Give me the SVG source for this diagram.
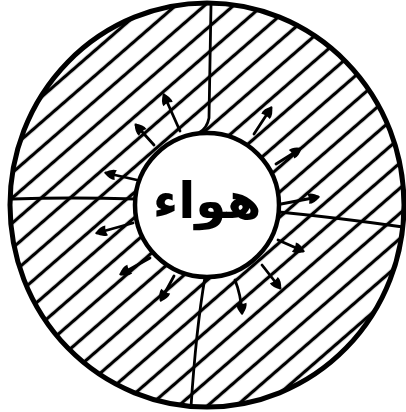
<svg xmlns="http://www.w3.org/2000/svg" width="406" height="412" viewBox="0 0 406 412">
<style>
.outline{fill:none;stroke:#000;stroke-width:5}
.div{fill:none;stroke:#000;stroke-width:2.8;stroke-linecap:round}
.arr{fill:none;stroke:#000;stroke-width:2.8;stroke-linecap:round;marker-end:url(#tip)}
.lbl{font-family:"DejaVu Sans",sans-serif;font-weight:bold;font-size:50px;fill:#000}
</style>
<defs>
<pattern id="hatch" patternUnits="userSpaceOnUse" width="20" height="19" patternTransform="rotate(-41) translate(0,-4.1)">
<line x1="-2" y1="9.5" x2="22" y2="9.5" stroke="#000" stroke-width="3.3"/>
</pattern>
<marker id="tip" markerUnits="userSpaceOnUse" markerWidth="16" markerHeight="14" viewBox="-4 -7 16 14" refX="7" refY="0" orient="auto">
<path d="M-3,-5 Q2,-6 9,0 Q2,6 -3,5 Q-1,0 -3,-5 Z" fill="#000"/>
</marker>
</defs>
<rect width="406" height="412" fill="#fff"/>
<g id="ring">
<ellipse cx="207" cy="205" rx="197" ry="202" fill="url(#hatch)"/>
<ellipse cx="207" cy="205" rx="197" ry="202" class="outline"/>
</g>
<g id="connectors">
<path class="div" d="M211,5 L209,118 Q207,128 200,132"/>
<path class="div" d="M12,199 Q70,197 136,199"/>
<path class="div" d="M279,212 Q340,218 403,227"/>
<path class="div" d="M205,277 Q196,330 191,407"/>
<path class="arr" d="M180,131 L164,95"/>
<path class="arr" d="M154,145 L136,125"/>
<path class="arr" d="M137,180 L106,173"/>
<path class="arr" d="M254,134 L271,108"/>
<path class="arr" d="M276,164 L300,149"/>
<path class="arr" d="M281,204 L318,197"/>
<path class="arr" d="M278,240 L303,251"/>
<path class="arr" d="M262,265 L280,288"/>
<path class="arr" d="M235,280 Q241,295 242,313"/>
<path class="arr" d="M174,276 L161,300"/>
<path class="arr" d="M150,258 L121,274"/>
<path class="arr" d="M133,223 L97,233"/>
</g>
<g id="air">
<circle cx="207" cy="205" r="72" fill="#fff" stroke="#000" stroke-width="4.5"/>
<text class="lbl" x="207" y="218" text-anchor="middle" direction="rtl">هواء</text>
</g>
</svg>
